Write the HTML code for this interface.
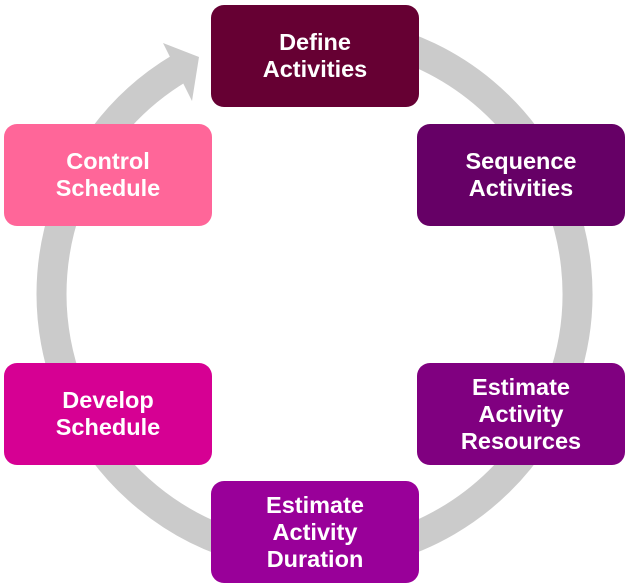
<!DOCTYPE html>
<html><head><style>
body{margin:0;width:630px;height:588px;background:#fff;position:relative;overflow:hidden;font-family:"Liberation Sans",Arial,sans-serif}
.b{position:absolute;width:208px;height:102px;border-radius:13px;color:#fff;font-weight:bold;font-size:23.5px;line-height:27px;display:flex;align-items:center;justify-content:center;text-align:center}
</style></head><body>
<svg width="630" height="588" style="position:absolute;left:0;top:0">
<path d="M314 31 A263 263 0 1 1 180 68" fill="none" stroke="#cbcbcb" stroke-width="30"/>
<polygon points="163,43 199,57 192,101" fill="#cbcbcb"/>
</svg>
<div class="b" style="left:211px;top:5px;background:#660033">Define<br>Activities</div>
<div class="b" style="left:417px;top:124px;background:#660066">Sequence<br>Activities</div>
<div class="b" style="left:417px;top:363px;background:#800080">Estimate<br>Activity<br>Resources</div>
<div class="b" style="left:211px;top:481px;background:#990099">Estimate<br>Activity<br>Duration</div>
<div class="b" style="left:4px;top:363px;background:#d60093">Develop<br>Schedule</div>
<div class="b" style="left:4px;top:124px;background:#ff6699">Control<br>Schedule</div>
</body></html>
